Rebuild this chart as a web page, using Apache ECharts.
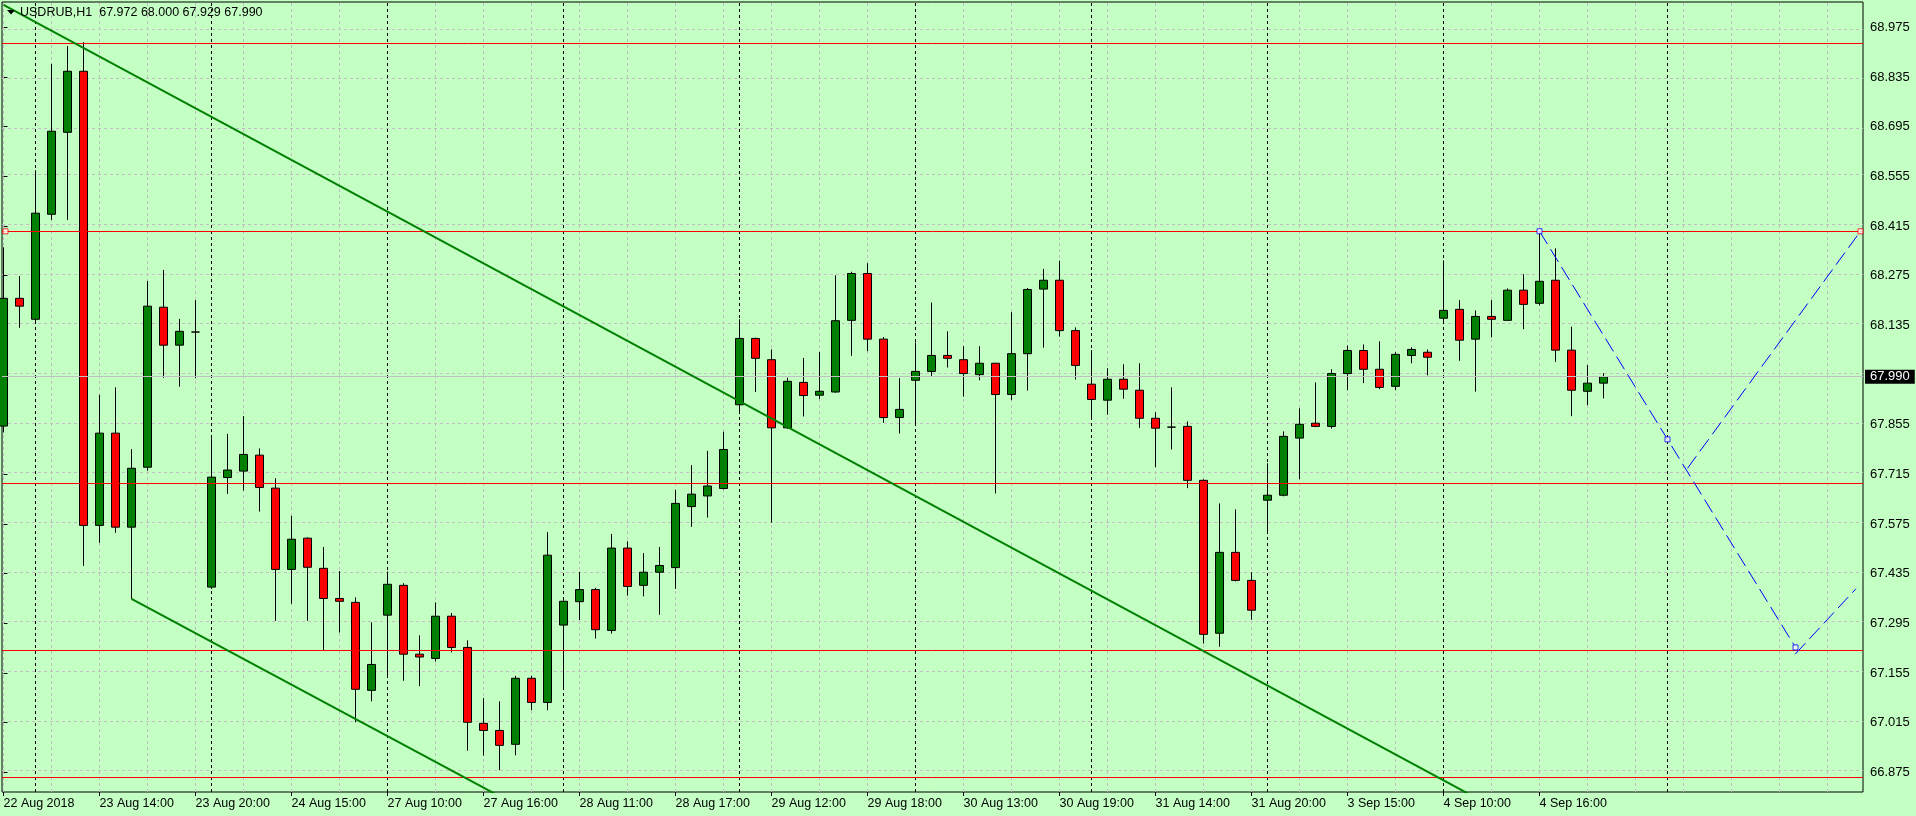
<!DOCTYPE html>
<html><head><meta charset="utf-8">
<script src="https://cdn.jsdelivr.net/npm/echarts@6/dist/echarts.min.js"></script>
<style>html,body{margin:0;padding:0;background:#C4FFC4;} #c{width:1916px;height:816px;}</style>
</head><body><div id="c"></div>
<script>
// ---- data (USDRUB, H1) ----
const opens = [67.851,68.211,68.152,68.448,68.679,68.851,67.571,67.831,67.566,67.735,
68.186,68.079,68.116,67.397,67.706,67.724,67.769,67.676,67.447,67.535,
67.450,67.365,67.354,67.106,67.318,67.402,67.208,67.196,67.315,67.227,
67.013,66.993,66.954,67.140,67.072,67.290,67.356,67.390,67.275,67.507,
67.402,67.439,67.452,67.624,67.654,67.675,67.911,68.098,68.038,67.846,
67.974,67.938,67.947,68.149,68.281,68.096,67.875,67.980,68.005,68.050,
68.038,67.996,68.028,67.940,68.055,68.237,68.262,68.120,67.969,67.924,
67.983,67.952,67.873,67.848,67.850,67.698,67.267,67.495,67.416,67.642,
67.656,67.817,67.859,67.850,67.999,68.064,68.011,67.963,68.050,68.059,
68.155,68.180,68.096,68.160,68.149,68.234,68.197,68.262,68.065,67.949,67.972];
const highs = [68.355,68.274,68.572,68.872,68.922,68.933,67.939,67.960,67.786,68.260,
68.291,68.153,68.206,67.817,67.829,67.879,67.788,67.704,67.598,67.537,
67.510,67.442,67.368,67.298,67.441,67.408,67.261,67.354,67.324,67.247,
67.084,67.075,67.147,67.147,67.552,67.360,67.440,67.395,67.547,67.526,
67.493,67.510,67.671,67.741,67.781,67.835,68.152,68.100,68.067,67.987,
68.043,68.060,68.276,68.286,68.310,68.102,67.986,68.087,68.199,68.118,
68.076,68.076,68.029,68.172,68.240,68.294,68.317,68.129,68.065,68.014,
68.025,68.028,67.890,67.960,67.864,67.701,67.633,67.616,67.439,67.746,
67.836,67.901,67.974,68.011,68.078,68.081,68.090,68.059,68.073,68.067,
68.318,68.206,68.177,68.206,68.239,68.279,68.400,68.352,68.131,68.023,68.000];
const lows = [67.833,68.128,68.144,68.432,68.432,67.457,67.522,67.550,67.364,67.725,
67.987,67.962,67.986,67.392,67.660,67.669,67.610,67.302,67.350,67.302,
67.218,67.269,67.016,67.075,67.146,67.133,67.118,67.187,67.213,66.936,
66.922,66.881,66.923,67.050,67.050,67.112,67.304,67.252,67.266,67.373,
67.371,67.319,67.392,67.567,67.593,67.672,67.887,67.947,67.579,67.843,
67.878,67.927,67.945,68.049,68.062,67.860,67.830,67.855,67.990,68.016,
67.934,67.980,67.661,67.924,67.951,68.072,68.103,67.982,67.873,67.883,
67.928,67.846,67.735,67.785,67.676,67.238,67.229,67.413,67.305,67.552,
67.653,67.701,67.848,67.844,67.952,67.972,67.955,67.952,68.028,67.994,
68.144,68.035,67.948,68.101,68.148,68.124,68.191,68.032,67.879,67.910,67.929];
const closes = [68.211,68.189,68.451,68.682,68.851,67.571,67.831,67.566,67.732,68.189,
68.079,68.118,68.116,67.707,67.727,67.771,67.678,67.447,67.532,67.453,
67.365,67.357,67.109,67.179,67.405,67.208,67.200,67.315,67.227,67.016,
66.993,66.951,67.140,67.072,67.487,67.357,67.390,67.277,67.507,67.399,
67.439,67.458,67.633,67.659,67.682,67.785,68.098,68.042,67.846,67.977,
67.937,67.949,68.148,68.281,68.096,67.875,67.898,68.005,68.050,68.042,
67.999,68.028,67.940,68.055,68.236,68.262,68.120,68.022,67.926,67.983,
67.955,67.873,67.845,67.848,67.698,67.264,67.495,67.416,67.332,67.656,
67.822,67.856,67.850,67.999,68.064,68.011,67.960,68.053,68.067,68.045,
68.177,68.093,68.160,68.152,68.234,68.194,68.259,68.065,67.952,67.972,67.990];

const xTickBars = [0,6,12,18,24,30,36,42,48,54,60,66,72,78,84,90,96];
const xTickLabels = ['22 Aug 2018','23 Aug 14:00','23 Aug 20:00','24 Aug 15:00','27 Aug 10:00',
  '27 Aug 16:00','28 Aug 11:00','28 Aug 17:00','29 Aug 12:00','29 Aug 18:00','30 Aug 13:00',
  '30 Aug 19:00','31 Aug 14:00','31 Aug 20:00','3 Sep 15:00','4 Sep 10:00','4 Sep 16:00'];
const yTickValues = [66.875,67.015,67.155,67.295,67.435,67.575,67.715,67.855,
  68.135,68.275,68.415,68.555,68.695,68.835,68.975];
const yGridValues = [66.875,67.015,67.155,67.295,67.435,67.575,67.715,67.855,67.995,
  68.135,68.275,68.415,68.555,68.695,68.835,68.975];
const vGridBars = [0,3,6,9,12,15,18,21,24,27,30,33,36,39,42,45,48,51,54,57,60,63,66,69,
  72,75,78,81,84,87,90,93,96,99,102,105,108,111,114];
const daySeparatorBars = [2,13,24,35,46,57,68,79,90,104];
const redLevels = [68.932,68.3994,67.692,67.224,66.8603];
const bidPrice = 67.990;
const upperChannel = [[0,69.0383],[95,66.731]];
const lowerChannel = [[8,67.364],[40,66.590]];
const zigA = [[96,68.400],[112,67.227]];
const zigB = [[105.25,67.732],[116.06,68.400]];
const zigC = [[111.98,67.208],[115.78,67.3925]];
const zigAnchors = [[96,68.400],[104,67.8135],[112,67.227]];
const levelAnchors = [[0.125,68.400],[116.06,68.400]];
const headerText = 'USDRUB,H1  67.972 68.000 67.929 67.990';

// ---- chart ----
const BG = '#C4FFC4';
const FONT = 'Liberation Sans';
const chart = echarts.init(document.getElementById('c'));

const gridLines = [];
yGridValues.forEach(v => gridLines.push({yAxis: v, lineStyle: {color: '#c3bcc3', type: [3,3], width: 1}}));
vGridBars.forEach(b => gridLines.push({xAxis: b, lineStyle: {color: '#c3bcc3', type: [3,3], width: 1}}));
daySeparatorBars.forEach(b => gridLines.push({xAxis: b, lineStyle: {color: '#000', type: [3,3], width: 1}}));

const levelLines = redLevels.map(v => ({yAxis: v, lineStyle: {color: '#FF0000', type: 'solid', width: 1}}));
levelLines.unshift({yAxis: bidPrice, lineStyle: {color: '#C0C0C0', type: 'solid', width: 1},
  label: {show: true, position: 'end', distance: 2, formatter: bidPrice.toFixed(3),
    backgroundColor: '#000', color: '#fff', padding: [1,5,0,5], fontSize: 13, lineHeight: 13,
    fontFamily: FONT}});

function lineSeries(pts, color, width, type) {
  return {type: 'line', data: pts, symbol: 'none', clip: true, silent: true, z: 4,
    lineStyle: {color: color, width: width, type: type}};
}

const option = {
  animation: false,
  backgroundColor: BG,
  grid: {left: 2, top: 2, right: 53, bottom: 24, show: true, borderColor: '#000', borderWidth: 1, backgroundColor: BG},
  xAxis: {
    type: 'value', min: -0.09375, max: 116.21875,
    axisLine: {show: false}, splitLine: {show: false},
    axisTick: {show: true, customValues: xTickBars, length: 4, lineStyle: {color: '#000'}},
    axisLabel: {customValues: xTickBars, align: 'left', margin: 5, color: '#000', fontSize: 12.5, fontFamily: FONT,
      formatter: v => { const i = xTickBars.indexOf(Math.round(v)); return i >= 0 ? xTickLabels[i] : ''; }}
  },
  yAxis: {
    type: 'value', position: 'right', min: 66.8195, max: 69.0463, scale: true,
    axisLine: {show: false}, splitLine: {show: false},
    axisTick: {show: true, customValues: yTickValues, length: 4, lineStyle: {color: '#000'}},
    axisLabel: {customValues: yTickValues, margin: 7, color: '#000', fontSize: 13, fontFamily: FONT,
      formatter: v => v.toFixed(3)}
  },
  graphic: [
    {type: 'polygon', shape: {points: [[7,10],[15,10],[11,14.5]]}, style: {fill: '#000'}, z: 10},
    {type: 'text', x: 20, y: 13, style: {text: headerText, fill: '#000', font: '12.5px "Liberation Sans"', verticalAlign: 'middle'}, z: 10}
  ],
  series: [
    {
      type: 'candlestick', z: 2, silent: true,
      data: opens.map((o, i) => [i, o, closes[i], lows[i], highs[i]]),
      encode: {x: 0, y: [1,2,3,4]},
      barWidth: 9,
      itemStyle: {color: '#008000', color0: '#FF0000', borderColor: '#000', borderColor0: '#000', borderColorDoji: '#000', borderWidth: 1},
      markLine: {silent: true, z: 1, symbol: ['none','none'], label: {show: false}, animation: false, data: gridLines}
    },
    Object.assign(lineSeries(upperChannel, '#008000', 2, 'solid'), {
      markLine: {silent: true, z: 3, symbol: ['none','none'], label: {show: false}, animation: false, data: levelLines}
    }),
    lineSeries(lowerChannel, '#008000', 2, 'solid'),
    lineSeries(zigA, '#0000FF', 1, [15,6]),
    lineSeries(zigB, '#0000FF', 1, [15,6]),
    lineSeries(zigC, '#0000FF', 1, [15,6]),
    {type: 'scatter', data: zigAnchors, symbol: 'rect', symbolSize: 5, silent: true, z: 6,
      itemStyle: {color: '#fff', borderColor: '#0000FF', borderWidth: 1}},
    {type: 'scatter', data: levelAnchors, symbol: 'rect', symbolSize: 5, silent: true, z: 6,
      itemStyle: {color: '#fff', borderColor: '#FF0000', borderWidth: 1}}
  ]
};
chart.setOption(option);
</script>
</body></html>
